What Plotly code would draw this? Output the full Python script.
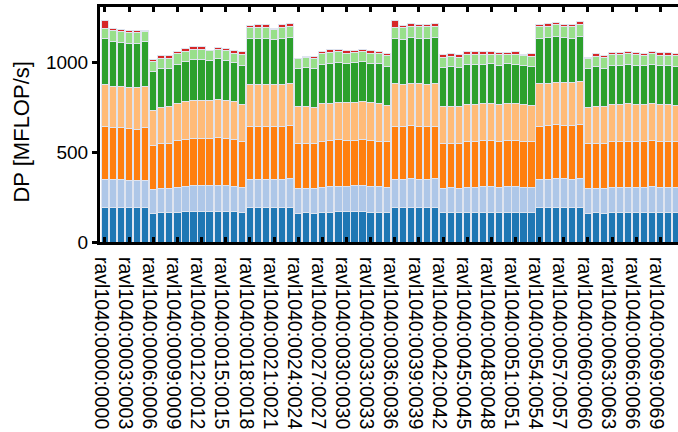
import plotly.graph_objects as go

# Per-node double precision FLOP rates, split into stacked components [MFLOP/s]
hosts = [f"ravl1040:{i:04d}:{i:04d}" for i in range(72)]

comp_1 = [193, 191, 191, 191, 191, 191,
          161, 163, 163, 167, 170, 170, 172, 170, 171, 170, 170, 167,
          193, 193, 193, 193, 193, 193,
          161, 163, 161, 167, 167, 170, 170, 170, 170, 167, 167, 165,
          193, 193, 193, 193, 193, 193,
          163, 163, 163, 167, 167, 167, 167, 167, 167, 167, 167, 167,
          193, 193, 193, 193, 193, 193,
          161, 163, 161, 165, 165, 167, 167, 167, 167, 165, 165, 165]
comp_2 = [155, 155, 155, 152, 150, 154,
          131, 133, 133, 138, 141, 145, 143, 143, 145, 143, 141, 138,
          155, 155, 155, 155, 155, 159,
          135, 135, 135, 138, 142, 141, 141, 143, 143, 142, 142, 137,
          155, 155, 159, 155, 155, 159,
          137, 139, 137, 138, 138, 142, 142, 138, 140, 142, 138, 136,
          155, 157, 159, 159, 157, 159,
          135, 137, 135, 137, 137, 138, 138, 136, 142, 137, 137, 137]
comp_3 = [294, 292, 292, 290, 288, 292,
          244, 253, 255, 261, 262, 264, 264, 266, 265, 266, 262, 255,
          298, 298, 296, 296, 298, 298,
          253, 254, 253, 257, 258, 260, 256, 256, 258, 258, 254, 256,
          298, 294, 296, 298, 294, 293,
          252, 250, 249, 255, 257, 255, 257, 255, 258, 255, 255, 255,
          298, 298, 303, 298, 300, 303,
          253, 252, 253, 258, 258, 257, 255, 257, 255, 258, 258, 256]
comp_4 = [236, 232, 230, 230, 234, 232,
          200, 202, 204, 206, 210, 213, 213, 213, 213, 213, 210, 208,
          234, 234, 236, 234, 234, 236,
          206, 205, 202, 208, 206, 208, 210, 210, 211, 210, 210, 204,
          236, 238, 238, 236, 238, 241,
          206, 206, 206, 208, 206, 208, 207, 208, 208, 208, 206, 206,
          236, 238, 236, 239, 240, 240,
          202, 206, 206, 208, 208, 208, 208, 206, 206, 208, 208, 206]
comp_5 = [255, 249, 247, 244, 242, 247,
          213, 215, 215, 221, 224, 227, 227, 219, 227, 223, 219, 217,
          253, 253, 253, 252, 253, 253,
          211, 217, 219, 223, 225, 225, 221, 223, 224, 221, 221, 217,
          251, 249, 253, 251, 253, 253,
          216, 221, 219, 221, 221, 221, 221, 219, 221, 219, 219, 215,
          251, 253, 253, 250, 247, 253,
          219, 221, 215, 217, 217, 223, 219, 219, 223, 219, 219, 215]
comp_6 = [60, 62, 62, 63, 63, 60,
          57, 56, 56, 58, 57, 54, 54, 58, 52, 52, 52, 60,
          64, 64, 64, 58, 66, 66,
          55, 56, 52, 58, 60, 56, 56, 56, 54, 56, 56, 60,
          62, 66, 66, 68, 68, 66,
          56, 56, 58, 56, 56, 54, 54, 58, 52, 56, 56, 56,
          67, 66, 67, 66, 67, 66,
          55, 56, 60, 60, 60, 56, 58, 56, 56, 56, 56, 60]
comp_7 = [41, 11, 11, 11, 12, 3,
          11, 17, 13, 13, 13, 15, 15, 2, 13, 13, 13, 15,
          11, 14, 14, 2, 14, 13,
          3, 3, 14, 13, 15, 13, 13, 12, 13, 13, 13, 12,
          43, 14, 13, 13, 13, 14,
          15, 14, 13, 15, 15, 13, 12, 12, 12, 13, 3, 15,
          13, 15, 16, 9, 11, 14,
          6, 15, 11, 13, 13, 15, 13, 13, 15, 15, 15, 12]

series = [comp_1, comp_2, comp_3, comp_4, comp_5, comp_6, comp_7]
colors = ["#1f77b4", "#aec7e8", "#ff7f0e", "#ffbb78", "#2ca02c", "#98df8a", "#d62728"]

tick_idx = list(range(0, 72, 3))
tick_txt = [hosts[i] for i in tick_idx]

fig = go.Figure()
x = list(range(len(hosts)))
for vals, col in zip(series, colors):
    fig.add_trace(go.Bar(
        x=x, y=vals,
        marker=dict(color=col, line=dict(color="#dfe4ef", width=1)),
        showlegend=False,
    ))

font_family = "Liberation Sans, Arial, Helvetica, sans-serif"
fig.update_layout(
    barmode="stack",
    bargap=0.1,
    width=678, height=432,
    margin=dict(l=100, r=0, t=7, b=190),
    plot_bgcolor="white",
    paper_bgcolor="white",
    font=dict(family=font_family, color="black"),
)
fig.update_xaxes(
    range=[-0.62, 71.2],
    tickmode="array", tickvals=tick_idx, ticktext=tick_txt,
    tickangle=90,
    tickfont=dict(size=19.5),
    ticklabelstandoff=8, ticklabelshift=-4,
    ticks="inside", ticklen=5, tickwidth=2.5, tickcolor="black",
    showline=True, linecolor="black", linewidth=3, mirror="ticks",
    showgrid=False, zeroline=False,
)
fig.update_yaxes(
    range=[0, 1311],
    tickvals=[0, 500, 1000],
    tickfont=dict(size=19),
    ticks="outside", ticklen=5, tickwidth=2.5, tickcolor="black",
    showline=True, linecolor="black", linewidth=3,
    showgrid=False, zeroline=False,
)

# y-axis title placed as a rotated annotation in the left margin
fig.add_annotation(
    text="DP [MFLOP/s]", textangle=-90,
    xref="paper", yref="paper", x=-0.135, y=0.47,
    xanchor="center", yanchor="middle",
    showarrow=False, font=dict(size=22),
)

fig.write_html("out.html")
